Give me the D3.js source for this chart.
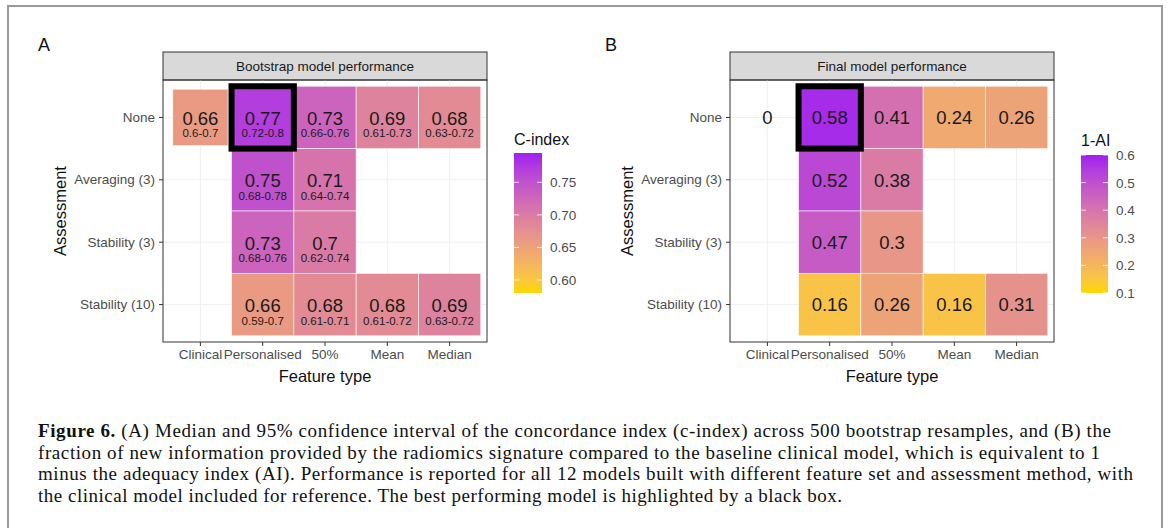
<!DOCTYPE html>
<html>
<head>
<meta charset="utf-8">
<script src="https://cdn.jsdelivr.net/npm/d3@7"></script>
<style>
  body { margin: 0; background: #fff; }
  svg { display: block; }
</style>
</head>
<body>
<div id="chart"></div>
<script>
const featureTypes = ["Clinical", "Personalised", "50%", "Mean", "Median"];
const assessments = ["None", "Averaging (3)", "Stability (3)", "Stability (10)"];

// panel A: median c-index, rows follow assessments, columns follow featureTypes
const cindex = [
  [0.66, 0.77, 0.73, 0.69, 0.68],
  [null, 0.75, 0.71, null, null],
  [null, 0.73, 0.7, null, null],
  [null, 0.66, 0.68, 0.68, 0.69]
];
const cindexCI = [
  ["0.6-0.7", "0.72-0.8", "0.66-0.76", "0.61-0.73", "0.63-0.72"],
  [null, "0.68-0.78", "0.64-0.74", null, null],
  [null, "0.68-0.76", "0.62-0.74", null, null],
  [null, "0.59-0.7", "0.61-0.71", "0.61-0.72", "0.63-0.72"]
];
// panel B: 1 - adequacy index
const oneMinusAI = [
  [0, 0.58, 0.41, 0.24, 0.26],
  [null, 0.52, 0.38, null, null],
  [null, 0.47, 0.3, null, null],
  [null, 0.16, 0.26, 0.16, 0.31]
];
const cindexLimits = [0.58, 0.795];
const cindexTicks = [0.6, 0.65, 0.7, 0.75];
const aiLimits = [0.1, 0.6];
const aiTicks = [0.1, 0.2, 0.3, 0.4, 0.5, 0.6];
const best = { row: "None", col: "Personalised" };

const captionLines = [
  ["Figure 6.", " (A) Median and 95% confidence interval of the concordance index (c-index) across 500 bootstrap resamples, and (B) the"],
  ["", "fraction of new information provided by the radiomics signature compared to the baseline clinical model, which is equivalent to 1"],
  ["", "minus the adequacy index (AI). Performance is reported for all 12 models built with different feature set and assessment method, with"],
  ["", "the clinical model included for reference. The best performing model is highlighted by a black box."]
];
const captionEnds = [1111, 1100, 1133, 842];

const W = 1168, H = 528;
const sans = "'Liberation Sans', Arial, sans-serif";

const svg = d3.select("#chart").append("svg")
  .attr("width", W).attr("height", H);

// figure frame
svg.append("rect")
  .attr("x", 8).attr("y", 6)
  .attr("width", 1154).attr("height", 560)
  .attr("fill", "none").attr("stroke", "#9a9a9a").attr("stroke-width", 2);

function drawPanel(opts) {
  const g = svg.append("g");
  const x = d3.scaleBand().domain(featureTypes)
    .range([opts.x0, opts.x1]).paddingInner(0).paddingOuter(0.1);
  const y = d3.scaleBand().domain(assessments)
    .range([80, 342]).paddingInner(0).paddingOuter(0.1);
  const color = d3.scaleLinear().domain(opts.limits)
    .range(["#FFD700", "#A020F0"]).interpolate(d3.interpolateLab).clamp(true);

  // panel label
  g.append("text").attr("x", opts.x0 - 125).attr("y", 51)
    .attr("font-family", sans).attr("font-size", 18).attr("fill", "#111")
    .text(opts.letter);

  // strip
  g.append("rect").attr("x", opts.x0).attr("y", 52)
    .attr("width", opts.x1 - opts.x0).attr("height", 28)
    .attr("fill", "#d9d9d9").attr("stroke", "#333").attr("stroke-width", 1);
  g.append("text").attr("x", (opts.x0 + opts.x1) / 2).attr("y", 70.5)
    .attr("text-anchor", "middle").attr("font-family", sans)
    .attr("font-size", 13.5).attr("fill", "#1a1a1a").text(opts.strip);

  // grid
  g.append("g").selectAll("line.v").data(featureTypes).join("line")
    .attr("x1", d => x(d) + x.bandwidth() / 2).attr("x2", d => x(d) + x.bandwidth() / 2)
    .attr("y1", 80).attr("y2", 342).attr("stroke", "#efefef").attr("stroke-width", 1);
  g.append("g").selectAll("line.h").data(assessments).join("line")
    .attr("y1", d => y(d) + y.bandwidth() / 2).attr("y2", d => y(d) + y.bandwidth() / 2)
    .attr("x1", opts.x0).attr("x2", opts.x1).attr("stroke", "#efefef").attr("stroke-width", 1);

  const cells = [];
  assessments.forEach((a, i) => featureTypes.forEach((f, j) => {
    const v = opts.values[i][j];
    if (v === null) return;
    cells.push({ row: a, col: f, v: v, ci: opts.ci ? opts.ci[i][j] : null });
  }));

  const bw = x.bandwidth(), bh = y.bandwidth();
  g.append("g").selectAll("rect").data(cells.filter(d => d.v >= opts.limits[0]))
    .join("rect")
    .attr("x", d => x(d.col) + (d.col === "Clinical" ? 3.5 : 0))
    .attr("y", d => y(d.row) + (d.col === "Clinical" ? 3 : 0))
    .attr("width", d => bw - (d.col === "Clinical" ? 7 : 0))
    .attr("height", d => bh - (d.col === "Clinical" ? 6 : 0))
    .attr("fill", d => color(d.v))
    .attr("stroke", "#fff").attr("stroke-opacity", 0.7).attr("stroke-width", 0.8);

  const labels = g.append("g").selectAll("g").data(cells).join("g")
    .attr("transform", d => `translate(${x(d.col) + bw / 2},${y(d.row) + bh / 2})`);
  labels.append("text")
    .attr("y", d => d.ci ? 7.6 : 6.8)
    .attr("text-anchor", "middle").attr("font-family", sans)
    .attr("font-size", 18.5).attr("fill", "#1a1a1a")
    .text(d => String(d.v));
  labels.filter(d => d.ci).append("text")
    .attr("y", 20)
    .attr("text-anchor", "middle").attr("font-family", sans)
    .attr("font-size", 11.5).attr("fill", "#1a1a1a")
    .text(d => d.ci);

  // highlight box
  g.append("rect")
    .attr("x", x(best.col)).attr("y", y(best.row))
    .attr("width", bw).attr("height", bh)
    .attr("fill", "none").attr("stroke", "#000").attr("stroke-width", 6);

  // panel border
  g.append("rect").attr("x", opts.x0).attr("y", 80)
    .attr("width", opts.x1 - opts.x0).attr("height", 262)
    .attr("fill", "none").attr("stroke", "#333").attr("stroke-width", 1);

  // axes
  const xAxis = g.append("g").attr("transform", "translate(0,342)")
    .call(d3.axisBottom(x).tickSize(4).tickPadding(3));
  const yAxis = g.append("g").attr("transform", `translate(${opts.x0},0)`)
    .call(d3.axisLeft(y).tickSize(4).tickPadding(4));
  [xAxis, yAxis].forEach(ax => {
    ax.select(".domain").remove();
    ax.selectAll("line").attr("stroke", "#333");
    ax.selectAll("text").attr("font-family", sans).attr("font-size", 13.5).attr("fill", "#4d4d4d");
  });

  g.append("text").attr("x", (opts.x0 + opts.x1) / 2).attr("y", 382)
    .attr("text-anchor", "middle").attr("font-family", sans)
    .attr("font-size", 16.5).attr("fill", "#111").text("Feature type");
  g.append("text")
    .attr("transform", `translate(${opts.x0 - 97},211) rotate(-90)`)
    .attr("text-anchor", "middle").attr("font-family", sans)
    .attr("font-size", 16.5).attr("fill", "#111").text("Assessment");

  // colour bar legend
  const L = opts.legend;
  const ly = d3.scaleLinear().domain(opts.limits).range([L.y1, L.y0]);
  const gradId = "grad" + opts.letter;
  const grad = svg.append("defs").append("linearGradient").attr("id", gradId)
    .attr("x1", 0).attr("y1", 1).attr("x2", 0).attr("y2", 0);
  d3.range(0, 1.0001, 0.1).forEach(t => {
    grad.append("stop").attr("offset", t)
      .attr("stop-color", color(opts.limits[0] + t * (opts.limits[1] - opts.limits[0])));
  });
  g.append("text").attr("x", L.x).attr("y", L.titleY)
    .attr("font-family", sans).attr("font-size", 16).attr("fill", "#111").text(opts.legendTitle);
  g.append("rect").attr("x", L.x).attr("y", L.y0)
    .attr("width", L.w).attr("height", L.y1 - L.y0).attr("fill", `url(#${gradId})`);
  const lt = g.append("g").selectAll("g").data(opts.ticks).join("g")
    .attr("transform", d => `translate(0,${ly(d)})`);
  lt.append("line").attr("x1", L.x).attr("x2", L.x + 5).attr("stroke", "#fff").attr("stroke-opacity", 0.8);
  lt.append("line").attr("x1", L.x + L.w - 5).attr("x2", L.x + L.w).attr("stroke", "#fff").attr("stroke-opacity", 0.8);
  lt.append("text").attr("x", L.x + L.w + 8).attr("y", 5)
    .attr("font-family", sans).attr("font-size", 13.5).attr("fill", "#4d4d4d")
    .text(d => opts.tickFormat(d));
}

drawPanel({
  letter: "A", strip: "Bootstrap model performance",
  x0: 163, x1: 487, values: cindex, ci: cindexCI,
  limits: cindexLimits, ticks: cindexTicks, tickFormat: d3.format(".2f"),
  legendTitle: "C-index",
  legend: { x: 514, w: 28, y0: 153, y1: 293, titleY: 145 }
});
drawPanel({
  letter: "B", strip: "Final model performance",
  x0: 730, x1: 1054, values: oneMinusAI, ci: null,
  limits: aiLimits, ticks: aiTicks, tickFormat: d3.format(".1f"),
  legendTitle: "1-AI",
  legend: { x: 1081, w: 27, y0: 155, y1: 293, titleY: 146 }
});

// caption
const serif = "'Liberation Serif', 'Times New Roman', serif";
captionLines.forEach((ln, i) => {
  const t = svg.append("text")
    .attr("x", 38).attr("y", 437 + i * 21.6)
    .attr("font-family", serif).attr("font-size", 19).attr("fill", "#111")
    .attr("textLength", captionEnds[i] - 38).attr("lengthAdjust", "spacing");
  if (ln[0]) t.append("tspan").attr("font-weight", "bold").text(ln[0]);
  t.append("tspan").text(ln[1]);
});
</script>
</body>
</html>
